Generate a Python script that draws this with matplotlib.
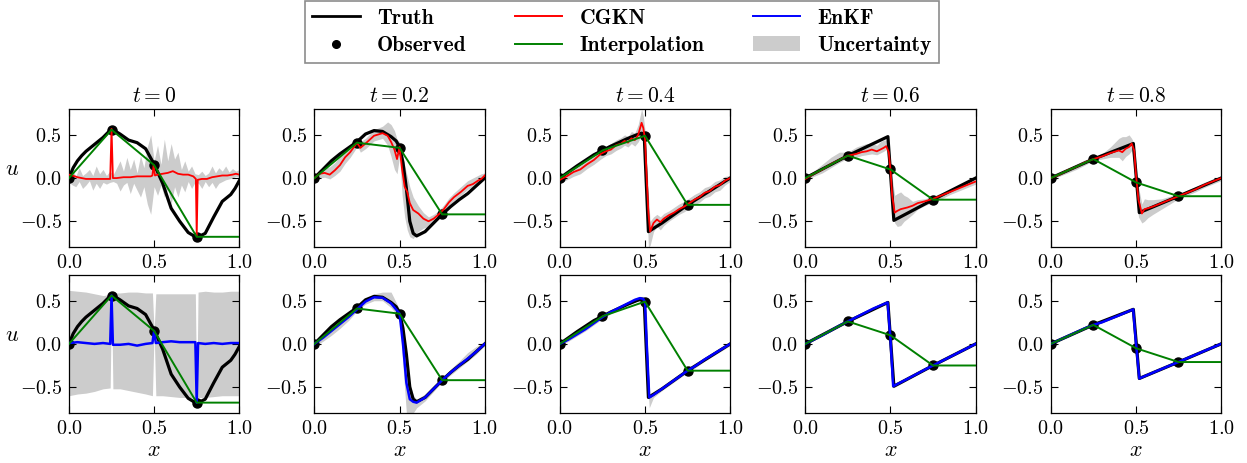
import numpy as np
import matplotlib
matplotlib.use("Agg")
import matplotlib.pyplot as plt
from matplotlib.lines import Line2D
from matplotlib.patches import Patch

plt.rcParams.update({
    "font.family": "serif",
    "font.serif": ["cmr10"],
    "mathtext.fontset": "cm",
    "axes.formatter.use_mathtext": True,
    "axes.unicode_minus": True,
})

# ---------------------------------------------------------------- data
times = ["0", "0.2", "0.4", "0.6", "0.8"]

# observation stations and observed values at each time
obs_x = [0.0, 0.25, 0.5, 0.75]
obs_t0 = [0.0, 0.56, 0.15, -0.68]
obs_t1 = [0.0, 0.41, 0.35, -0.42]
obs_t2 = [0.0, 0.32, 0.49, -0.31]
obs_t3 = [0.0, 0.26, 0.10, -0.25]
obs_t4 = [0.0, 0.22, -0.05, -0.21]

# reference solution
truth0_x = [0, .025, .05, .075, .1, .15, .2, .25, .3, .35, .4, .45, .5, .55, .6, .65, .7, .75, .8, .85, .9, .95, .975, 1.0]
truth0_u = [0, .12, .20, .26, .31, .39, .47, .57, .51, .44, .41, .34, .16, -.06, -.35, -.50, -.63, -.69, -.64, -.45, -.27, -.19, -.12, -.03]
truth1_x = [0, .05, .1, .15, .2, .25, .3, .35, .4, .45, .48, .5, .52, .54, .56, .58, .6, .65, .7, .75, .8, .85, .9, .95, 1.0]
truth1_u = [0, .10, .20, .28, .35, .42, .51, .55, .54, .48, .43, .36, .18, -.12, -.50, -.64, -.67, -.62, -.52, -.42, -.33, -.25, -.18, -.09, 0]
truth2_x = [0, .1, .2, .25, .3, .4, .45, .48, .495, .52, .6, .75, 1.0]
truth2_u = [0, .14, .27, .32, .37, .46, .50, .52, .51, -.62, -.52, -.31, 0.0]
truth3_x = [0, .25, .485, .52, .75, 1.0]
truth3_u = [0, .26, .48, -.49, -.25, 0.0]
truth4_x = [0, .25, .485, .52, .75, 1.0]
truth4_u = [0, .22, .40, -.40, -.21, 0.0]

# CGKN posterior mean and uncertainty bounds
cg0_x = [0, .02, .05, .1, .15, .2, .242, .25, .258, .28, .32, .36, .4, .44, .48, .49, .497, .505, .52, .55,
         .58, .61, .64, .67, .7, .73, .745, .75, .756, .78, .81, .84, .87, .9, .93, .96, .98, 1.0]
cg0_u = [.04, .03, .01, -.01, -.01, -.01, -.01, .57, 0.0, .0, .01, .01, .02, .02, .02, .03, .15, .03, .04, .05,
         .06, .08, .05, .04, .04, .02, -.01, -.67, -.02, -.01, -.01, .01, .02, .03, .03, .04, .05, .04]
band0_x = np.linspace(0, 1, 51)
band0_hi = [.05, .10, .02, .12, .03, .06, .10, .03, .14, .05, .10, .03, .08, .04, .12, .20, .08, .24, .10, .22,
            .06, .26, .12, .36, .50, .20, .38, .16, .45, .20, .40, .22, .30, .10, .20, .08, .14, .05, .04, .08,
            .03, .06, .14, .06, .12, .08, .14, .07, .11, .08, .10]
band0_lo = [-.05, -.08, -.10, -.04, -.12, -.08, -.03, -.14, -.06, -.12, -.05, -.07, -.05, -.04, -.06, -.15, -.08, -.05, -.18, -.06,
            -.14, -.22, -.10, -.30, -.42, -.10, -.20, -.08, -.22, -.12, -.30, -.10, -.22, -.08, -.16, -.04, -.12, -.05, -.06, -.12,
            -.04, -.10, -.05, -.12, -.06, -.04, -.02, -.01, .00, .02, .01]

cg1_x = [0, .03, .06, .09, .12, .15, .18, .21, .24, .25, .27, .3, .35, .4, .43, .45, .47, .485, .5, .515,
         .53, .545, .56, .58, .61, .64, .67, .7, .73, .76, .79, .82, .86, .9, .93, .96, .98, 1.0]
cg1_u = [0, .05, .06, .04, .09, .15, .24, .30, .38, .41, .35, .40, .49, .52, .49, .42, .33, .22, .36, .10,
         -.10, -.16, -.29, -.37, -.41, -.47, -.50, -.47, -.42, -.36, -.28, -.22, -.16, -.09, -.07, -.03, -.01, .03]
cg1_lo = [-.05, .0, .01, -.01, .03, .08, .17, .24, .33, .38, .30, .34, .43, .46, .38, .25, .10, .05, .25, -.20,
          -.45, -.60, -.68, -.70, -.62, -.58, -.56, -.52, -.47, -.40, -.32, -.26, -.20, -.13, -.10, -.06, -.03, .0]
cg1_hi = [.04, .10, .12, .13, .18, .25, .31, .36, .43, .44, .42, .46, .56, .60, .65, .62, .55, .45, .42, .30,
          .15, .02, -.10, -.22, -.32, -.40, -.45, -.42, -.38, -.31, -.23, -.17, -.10, -.03, .0, .03, .05, .06]

cg2_x = [0, .04, .08, .12, .16, .2, .24, .27, .3, .33, .36, .38, .4, .42, .44, .46, .48, .49, .5, .51,
         .52, .53, .55, .57, .59, .61, .64, .67, .7, .73, .76, .79, .82, .85, .88, .91, .94, .97, 1.0]
cg2_u = [-.02, .02, .07, .10, .16, .21, .28, .31, .33, .38, .40, .43, .41, .46, .44, .50, .64, .58, .45, .0,
         -.40, -.62, -.52, -.48, -.51, -.47, -.43, -.40, -.36, -.33, -.29, -.25, -.22, -.17, -.15, -.10, -.08, -.03, 0.0]
cg2_lo = [-.06, -.02, .02, .05, .11, .16, .22, .26, .28, .32, .35, .38, .36, .40, .37, .42, .50, .48, .30, -.30,
          -.80, -.78, -.62, -.56, -.60, -.55, -.50, -.46, -.42, -.39, -.35, -.31, -.28, -.23, -.21, -.16, -.14, -.08, -.04]
cg2_hi = [.04, .06, .12, .16, .22, .27, .34, .37, .40, .44, .47, .50, .48, .54, .52, .62, .80, .72, .55, .20,
          -.20, -.50, -.45, -.42, -.45, -.41, -.38, -.34, -.30, -.27, -.23, -.19, -.16, -.11, -.09, -.04, -.02, .02, .03]

cg3_x = [0, .05, .1, .15, .2, .25, .3, .33, .36, .39, .42, .44, .46, .475, .49, .5, .51, .525, .54, .56,
         .58, .6, .63, .66, .7, .75, .8, .85, .9, .95, 1.0]
cg3_u = [-.01, .05, .10, .16, .21, .26, .28, .30, .31, .33, .31, .33, .35, .37, .30, .10, -.20, -.40, -.38, -.36,
         -.35, -.34, -.32, -.29, -.27, -.24, -.20, -.16, -.12, -.08, -.04]
cg3_lo = [-.04, .02, .06, .12, .18, .23, .24, .26, .27, .28, .27, .29, .31, .33, .15, -.05, -.35, -.52, -.56, -.55,
          -.50, -.47, -.42, -.36, -.32, -.28, -.24, -.19, -.15, -.11, -.07]
cg3_hi = [.02, .08, .16, .24, .30, .30, .36, .38, .40, .40, .38, .42, .44, .44, .38, .22, .0, -.20, -.18, -.16,
          -.20, -.22, -.27, -.25, -.24, -.21, -.17, -.13, -.09, -.05, -.02]

cg4_x = [0, .05, .1, .15, .2, .25, .3, .35, .4, .42, .44, .46, .475, .49, .5, .515, .535, .55, .57, .6,
         .65, .7, .75, .8, .85, .9, .95, 1.0]
cg4_u = [0, .04, .09, .13, .18, .22, .25, .29, .32, .30, .34, .36, .40, .32, .05, -.25, -.41, -.36, -.35, -.33,
         -.29, -.25, -.21, -.17, -.13, -.08, -.04, 0.0]
cg4_lo = [-.02, .02, .06, .10, .15, .20, .22, .24, .24, .20, .25, .28, .32, .20, -.10, -.45, -.52, -.50, -.46, -.42,
          -.36, -.30, -.24, -.20, -.16, -.11, -.07, -.03]
cg4_hi = [.02, .06, .11, .16, .21, .24, .28, .36, .46, .48, .48, .50, .46, .40, .15, -.10, -.30, -.24, -.25, -.25,
          -.24, -.21, -.18, -.14, -.10, -.05, -.01, .02]

# EnKF posterior mean and uncertainty bounds
en0_x = [0, .05, .1, .15, .2, .242, .25, .258, .3, .35, .4, .45, .49, .5, .51, .55, .6, .65, .7, .742,
         .75, .758, .8, .85, .9, .95, 1.0]
en0_u = [.01, .02, .01, .0, .01, .0, .56, -.01, -.01, .0, -.02, .0, .01, .15, .01, .02, .03, .02, .02, .02,
         -.68, .01, .0, .01, .0, .01, .01]
en0_lo = [-.60, -.58, -.57, -.55, -.52, -.51, .56, -.52, -.52, -.54, -.56, -.58, -.60, .15, -.60, -.60, -.61, -.62, -.62, -.63,
          -.68, -.62, -.62, -.61, -.60, -.60, -.60]
en0_hi = [.62, .61, .60, .58, .56, .57, .56, .59, .59, .60, .60, .59, .59, .15, .58, .58, .58, .58, .58, .58,
          -.68, .60, .61, .60, .60, .61, .61]

en1_x = [0, .05, .1, .15, .2, .25, .3, .35, .4, .45, .5, .52, .54, .56, .58, .6, .65, .7, .75, .8,
         .85, .9, .95, 1.0]
en1_u = [0, .07, .15, .23, .31, .40, .49, .54, .535, .47, .35, .0, -.45, -.64, -.67, -.68, -.62, -.52, -.42, -.33,
         -.25, -.17, -.09, 0]
en1_lo = [-.03, .03, .10, .18, .27, .38, .46, .50, .50, .42, .30, -.25, -.80, -.85, -.80, -.74, -.66, -.55, -.44, -.36,
          -.28, -.20, -.12, -.02]
en1_hi = [.03, .10, .19, .27, .34, .42, .52, .58, .60, .60, .40, .20, -.10, -.45, -.60, -.64, -.58, -.48, -.40, -.29,
          -.20, -.10, -.03, .02]

en2_x = [0, .05, .1, .15, .2, .25, .3, .35, .4, .44, .47, .49, .5, .51, .525, .55, .6, .65, .7, .75,
         .8, .85, .9, .95, 1.0]
en2_u = [0, .05, .11, .17, .24, .31, .37, .42, .47, .51, .53, .52, .48, .0, -.62, -.59, -.52, -.45, -.38, -.31,
         -.25, -.18, -.12, -.06, 0.0]
en2_lo = [-.02, .03, .09, .15, .22, .29, .35, .40, .45, .49, .51, .49, .44, -.30, -.74, -.62, -.54, -.47, -.40, -.33,
          -.27, -.20, -.14, -.08, -.02]
en2_hi = [.02, .07, .13, .19, .26, .33, .39, .44, .49, .53, .55, .55, .52, .30, -.58, -.56, -.50, -.43, -.36, -.29,
          -.23, -.16, -.10, -.04, .02]

en3_x = [0, .1, .2, .25, .3, .4, .483, .5, .516, .6, .7, .75, .8, .9, 1.0]
en3_u = [0, .10, .21, .26, .31, .41, .48, .06, -.49, -.405, -.30, -.25, -.20, -.10, 0.0]
en3_lo = [-.01, .09, .20, .25, .30, .40, .47, .02, -.51, -.42, -.31, -.26, -.21, -.11, -.01]
en3_hi = [.01, .11, .22, .27, .32, .42, .49, .10, -.47, -.39, -.29, -.24, -.19, -.09, .01]

en4_x = [0, .1, .2, .25, .3, .4, .484, .5, .52, .6, .7, .75, .8, .9, 1.0]
en4_u = [0, .09, .18, .22, .25, .33, .40, .02, -.40, -.333, -.25, -.21, -.167, -.083, 0.0]
en4_lo = [-.01, .08, .17, .21, .24, .32, .39, -.02, -.41, -.343, -.26, -.22, -.177, -.093, -.01]
en4_hi = [.01, .10, .19, .23, .26, .34, .41, .06, -.39, -.323, -.24, -.20, -.157, -.073, .01]

# ---------------------------------------------------------------- figure
obs_all = [obs_t0, obs_t1, obs_t2, obs_t3, obs_t4]
truth_all = [(truth0_x, truth0_u), (truth1_x, truth1_u), (truth2_x, truth2_u),
             (truth3_x, truth3_u), (truth4_x, truth4_u)]
cgkn_all = [(cg0_x, cg0_u, band0_x, band0_lo, band0_hi),
            (cg1_x, cg1_u, cg1_x, cg1_lo, cg1_hi),
            (cg2_x, cg2_u, cg2_x, cg2_lo, cg2_hi),
            (cg3_x, cg3_u, cg3_x, cg3_lo, cg3_hi),
            (cg4_x, cg4_u, cg4_x, cg4_lo, cg4_hi)]
enkf_all = [(en0_x, en0_u, en0_x, en0_lo, en0_hi),
            (en1_x, en1_u, en1_x, en1_lo, en1_hi),
            (en2_x, en2_u, en2_x, en2_lo, en2_hi),
            (en3_x, en3_u, en3_x, en3_lo, en3_hi),
            (en4_x, en4_u, en4_x, en4_lo, en4_hi)]

fig, axes = plt.subplots(2, 5, figsize=(12.47, 4.63), dpi=100)
fig.subplots_adjust(left=0.0553, right=0.9792, bottom=0.108, top=0.7646,
                    wspace=0.441, hspace=0.2)

x_fine = np.linspace(0, 1, 401)
grey = "#cccccc"

for j in range(5):
    tx, tu = truth_all[j]
    interp = np.interp(x_fine, obs_x, obs_all[j])
    for i, (mx, mu, bx, blo, bhi) in enumerate([cgkn_all[j], enkf_all[j]]):
        ax = axes[i, j]
        color = "r" if i == 0 else "b"
        lw = 1.3 if i == 0 else 1.8
        ax.fill_between(bx, blo, bhi, color=grey, lw=0, zorder=1)
        ax.plot(tx, tu, color="k", lw=2.3, zorder=2)
        ax.plot(obs_x, obs_all[j], "o", color="k", ms=6.5, zorder=3)
        ax.plot(mx, mu, color=color, lw=lw, zorder=4)
        ax.plot(x_fine, interp, color="g", lw=1.4, zorder=5)

        ax.set_xlim(0, 1)
        ax.set_ylim(-0.8, 0.8)
        ax.set_xticks([0, 0.5, 1.0])
        ax.set_yticks([-0.5, 0, 0.5])
        ax.tick_params(direction="in", top=True, right=True, length=5,
                       width=0.8, labelsize=14.5, pad=5)
        for sp in ax.spines.values():
            sp.set_linewidth(0.9)
        if i == 0:
            ax.set_title(r"$t=%s$" % times[j], fontsize=15.5, pad=5)
        else:
            ax.set_xlabel(r"$x$", fontsize=16, labelpad=2)
        if j == 0:
            ax.set_ylabel(r"$u$", fontsize=16, rotation=0, ha="right", va="center")
            ax.yaxis.set_label_coords(-0.29, 0.565)

handles = [Line2D([], [], color="k", lw=2),
           Line2D([], [], marker="o", color="k", ls="none", ms=5.5),
           Line2D([], [], color="r", lw=1.4),
           Line2D([], [], color="g", lw=1.4),
           Line2D([], [], color="b", lw=1.4),
           Patch(facecolor=grey, edgecolor="none")]
labels = ["Truth", "Observed", "CGKN", "Interpolation", "EnKF", "Uncertainty"]
leg = fig.legend(handles, labels, loc="upper center", bbox_to_anchor=(0.4988, 0.998),
                 borderaxespad=0.0,
                 ncol=3, prop={"family": "cmb10", "size": 15.5}, frameon=True,
                 fancybox=False, edgecolor="0.55", framealpha=1,
                 handlelength=2.2, handletextpad=0.8, columnspacing=2.25,
                 borderpad=0.35, labelspacing=0.4)
leg.get_frame().set_linewidth(1.2)

fig.savefig("out.png", dpi=100)
